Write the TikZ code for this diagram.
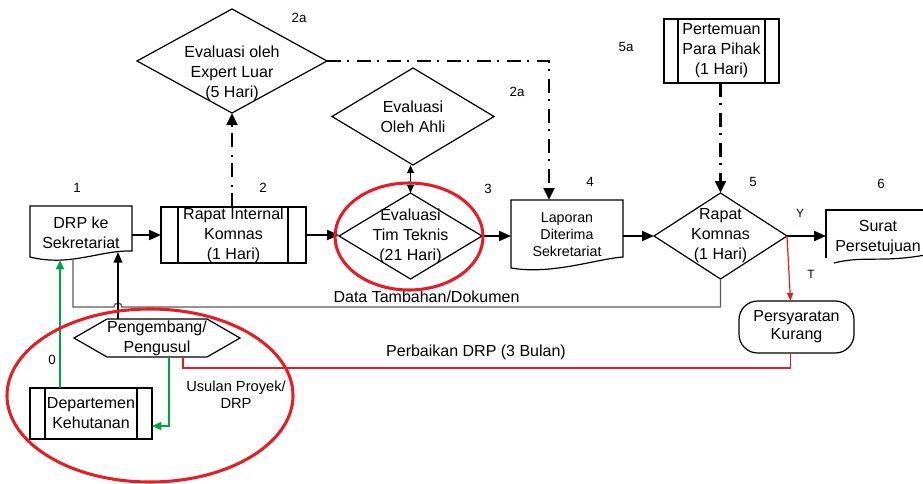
\documentclass[tikz,border=0pt]{standalone}
\usepackage{fontspec}
\setmainfont{Liberation Sans}
\usetikzlibrary{arrows.meta,calc}
\definecolor{myred}{HTML}{E31E26}
\definecolor{mygreen}{HTML}{00A14B}
\definecolor{mygray}{HTML}{5A5A5A}
\begin{document}
\begin{tikzpicture}[x=0.75pt,y=-0.75pt,
  ghost/.style={draw=none, inner sep=0pt, outer sep=0pt, align=center, font=\fontsize{12}{15}\selectfont},
  sz/.style 2 args={minimum width=#1*0.75pt, minimum height=#2*0.75pt},
  border/.style={draw=black, line width=0.9pt},
  flow/.style={line width=1.5pt, -{Triangle[length=9pt,width=7.5pt]}},
  dashdot/.style={line width=2.2pt, dash pattern=on 10.5pt off 4.5pt on 1.5pt off 6pt, -{Triangle[length=9pt,width=8pt]}},
  num/.style={font=\fontsize{10}{12}\selectfont, inner sep=0pt},
  small/.style={font=\fontsize{9}{11}\selectfont, inner sep=0pt},
  greenflow/.style={draw=mygreen, line width=1.2pt, -{Triangle[length=7pt,width=6pt]}},
  redline/.style={draw=myred, line width=0.9pt},
  ring/.style={draw=myred, line width=2.3pt}]
\useasboundingbox (0,0) rectangle (923,483);
\clip (0,0) rectangle (923,483);

% ---------- nodes ----------
\node[ghost,sz={102}{54}] (drp) at (81,233) {DRP ke\\Sekretariat};
\draw[border] ($(drp.south west)+(0,-3)$) -- (drp.north west) -- (drp.north east) -- ($(drp.south east)+(0,-9)$)
  .. controls (100,250) and (70,267) .. cycle;

\node[ghost,draw,line width=0.9pt,sz={145}{56}] (rapat) at (233.5,235) {Rapat Internal\\Komnas\\(1 Hari)};
\draw[border] ($(rapat.north west)+(17,0)$) -- ($(rapat.south west)+(17,0)$)
              ($(rapat.north east)+(-18,0)$) -- ($(rapat.south east)+(-18,0)$);

\node[ghost,sz={190}{104}] (expert) at (232,61) {\raisebox{-12.5pt}[0pt][0pt]{\begin{tabular}{@{}c@{}}Evaluasi oleh\\Expert Luar\\(5 Hari)\end{tabular}}};
\draw[border] (expert.west) -- (expert.north) -- (expert.east) -- (expert.south) -- cycle;

\node[ghost,sz={162}{97}] (ahli) at (413,116.5) {Evaluasi\\Oleh Ahli};
\draw[border] (ahli.west) -- (ahli.north) -- (ahli.east) -- (ahli.south) -- cycle;

\node[ghost,sz={143}{86}] (tim) at (410.5,236) {Evaluasi\\Tim Teknis\\(21 Hari)};
\draw[border] (tim.west) -- (tim.north) -- (tim.east) -- (tim.south) -- cycle;

\node[ghost,sz={112}{70},font=\fontsize{10.7}{12.8}\selectfont] (laporan) at (567,235) {Laporan\\Diterima\\Sekretariat};
\draw[border] ($(laporan.south west)+(0,-2)$) -- (laporan.north west) -- (laporan.north east) -- ($(laporan.south east)+(0,-13)$)
  .. controls (596,259) and (552,275) .. cycle;

\node[ghost,sz={133}{86}] (komnas) at (720.5,236) {Rapat\\Komnas\\(1 Hari)};
\draw[border] (komnas.west) -- (komnas.north) -- (komnas.east) -- (komnas.south) -- cycle;

\node[ghost,draw,line width=0.9pt,sz={115}{64}] (pertemuan) at (721.5,51) {Pertemuan\\Para Pihak\\(1 Hari)};
\draw[border] ($(pertemuan.north west)+(14,0)$) -- ($(pertemuan.south west)+(14,0)$)
              ($(pertemuan.north east)+(-14,0)$) -- ($(pertemuan.south east)+(-14,0)$);

\node[ghost,sz={104}{56}] (surat) at (878,238) {Surat\\Persetujuan};
\draw[border] ($(surat.north west)+(0,48)$) -- (surat.north west) -- (surat.north east);
\draw[border] (834,263) .. controls (865,255) and (885,264) .. (935,253);

\node[ghost,draw,line width=0.9pt,rounded corners=14pt,sz={115}{52},font=\fontsize{12}{13.5}\selectfont] (persy) at (796.5,327) {Persyaratan\\Kurang};

\node[ghost,sz={166}{38}] (peng) at (157,338) {Pengembang/\\Pengusul};
\draw[border] (peng.west) -- ($(peng.north west)+(33,0)$) -- ($(peng.north east)+(-33,0)$) -- (peng.east)
  -- ($(peng.south east)+(-33,0)$) -- ($(peng.south west)+(33,0)$) -- cycle;

\node[ghost,draw,line width=0.9pt,sz={122}{51}] (dept) at (91,413.5) {Departemen\\Kehutanan};
\draw[border] ($(dept.north west)+(15,0)$) -- ($(dept.south west)+(15,0)$)
              ($(dept.north east)+(-15,0)$) -- ($(dept.south east)+(-15,0)$);

% ---------- labels ----------
\node[num] (n1) at (77,188) {1};
\node[num] (n2) at (263,188) {2};
\node[num] (n2a) at (299,18) {2a};
\node[num] (n2b) at (517,92) {2a};
\node[num] (n3) at (488,189) {3};
\node[num] (n4) at (590,182) {4};
\node[num] (n5) at (753,182) {5};
\node[num] (n5a) at (626,47) {5a};
\node[num] (n6) at (881,184) {6};
\node[num] (n0) at (52,360) {0};
\node[small] (ly) at (800,213) {Y};
\node[small] (lt) at (811,274) {T};
\node[ghost,font=\fontsize{11}{13}\selectfont] (usulan) at (236,395) {Usulan Proyek/\\DRP};
\node[ghost] (dataT) at (426.5,297) {Data Tambahan/Dokumen};
\node[ghost] (perb) at (476,352) {Perbaikan DRP (3 Bulan)};

% ---------- connectors ----------
\draw[flow] (drp.east |- rapat.west) -- (rapat.west);
\draw[flow] (rapat.east) -- (rapat.east -| tim.west);
\draw[flow] (tim.east) -- (tim.east -| laporan.west);
\draw[flow] (laporan.east |- komnas.west) -- (komnas.west);
\draw[flow] (komnas.east) -- (komnas.east -| surat.west);

\draw[dashdot] (expert.south |- rapat.north) -- (expert.south);
\draw[dashdot] (expert.east) -| ($(laporan.north west)+(38,0)$);
\draw[dashdot] (komnas.north |- pertemuan.south) -- (komnas.north);

\draw[line width=0.9pt, {Triangle[length=6pt,width=5pt]}-{Triangle[length=6pt,width=5pt]}] (tim.north) -- (tim.north |- ahli.south);

\draw[redline, -{Triangle[length=6pt,width=4.5pt]}] (komnas.east) -- ($(persy.north)+(-6,0)$);
\draw[redline] ($(persy.south)+(-6,0)$) -- ++(0,15) -| ($(peng.south)+(26,0)$);

\draw[mygray, line width=1pt] (komnas.south) -- ++(0,28) -- (122,307)
  arc[start angle=0,end angle=-180,radius=4] -- (73,307) -- ($(drp.south west)+(43,-1)$);

\draw[line width=1.2pt, -{Triangle[length=8pt,width=6.5pt]}] ($(peng.north west)+(44,0)$) -- ($(drp.south west)+(88,-8)$);

\draw[greenflow] ($(dept.north west)+(30,0)$) -- ($(drp.south west)+(30,0)$);
\draw[greenflow] ($(peng.south west)+(95,0)$) |- ($(dept.south east)+(0,-13)$);

% ---------- highlight rings ----------
\draw[ring] (409,236.5) ellipse [x radius=74, y radius=53.5];
\draw[ring] (150,395.5) ellipse [x radius=143, y radius=86.5];
\end{tikzpicture}
\end{document}
